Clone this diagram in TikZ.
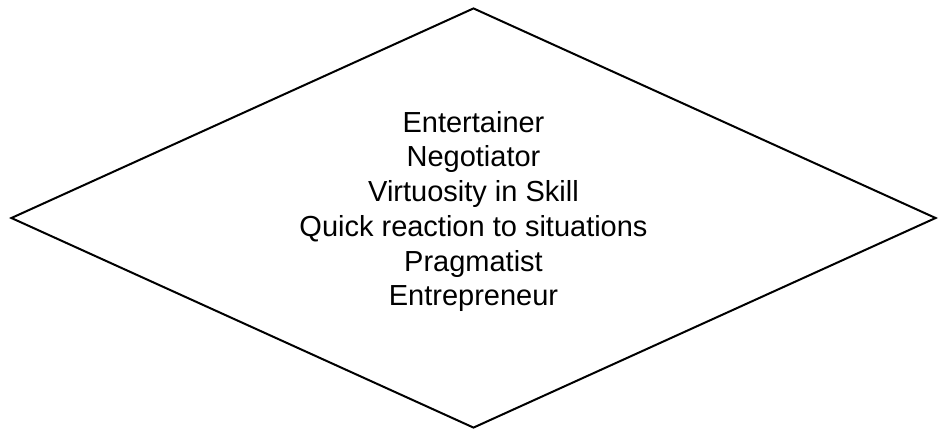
\documentclass[tikz,border=0pt]{standalone}
\usepackage{fontspec}
\setmainfont{Liberation Sans}
\usetikzlibrary{positioning, shapes.geometric}

\begin{document}
\begin{tikzpicture}[x=1bp, y=-1bp]
    % Canvas with the reference margins
    \useasboundingbox (0, 0) rectangle (944, 429);
    % Diamond outline
    \node[draw, shape=diamond, line width=2bp, aspect=2.2,
      minimum width=925bp, minimum height=420bp, inner sep=0pt] (traits) at (473.5, 218) {};
    % List of traits inside the diamond
    \node[font=\fontsize{29.1pt}{34.9pt}\selectfont, align=center, inner sep=0pt]
      (traitlist) at ([yshift=6.5bp]traits.center)
      {Entertainer\\ Negotiator\\ Virtuosity in Skill\\ Quick reaction to situations\\ Pragmatist\\ Entrepreneur};
\end{tikzpicture}
\end{document}
